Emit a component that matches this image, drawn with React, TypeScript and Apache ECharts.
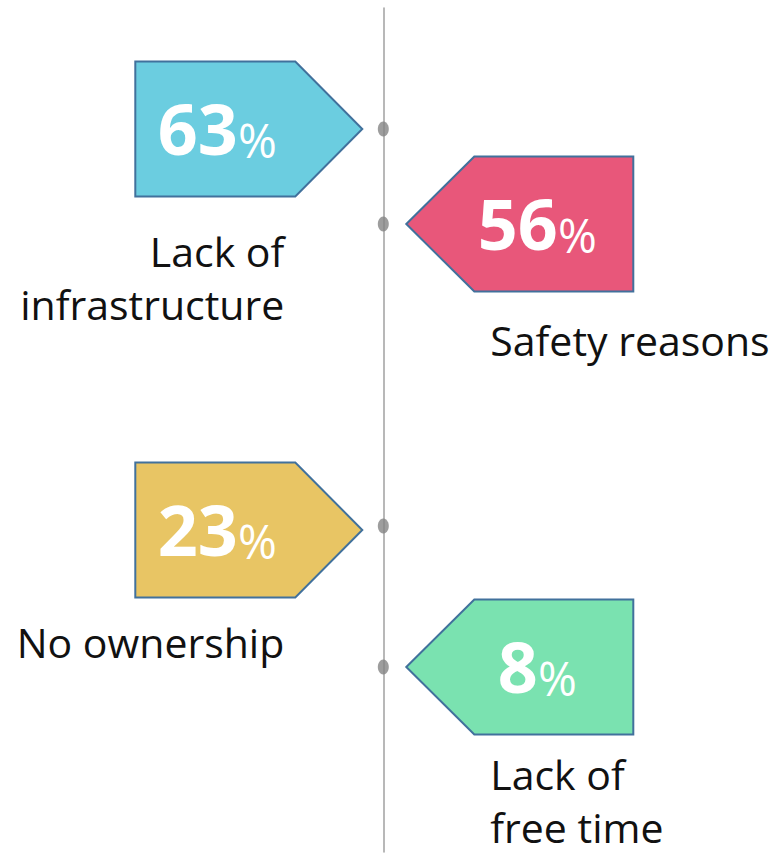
import React, { useEffect, useRef } from "react";
import * as echarts from "echarts";

// ---------- DATA ----------
const categories = ["Lack of\ninfrastructure", "Safety reasons", "No ownership", "Lack of\nfree time"];
const percentages = [63, 56, 23, 8];
const sides = ["left", "right", "left", "right"];
const fillColors = ["#6BCDE0", "#E8577A", "#E8C564", "#7AE2B0"];

// ---------- LAYOUT (pixel positions along the timeline) ----------
const TAG_Y = [129, 224, 530, 667];
const DOT_Y = [129, 224, 526, 667];
const LABEL_TOP = [224, 313, 615, 747];
const LABEL_LH = 53;

const HALF_H = 67.5;

export default function App() {
  const ref = useRef<HTMLDivElement>(null);

  useEffect(() => {
    if (!ref.current) return;
    const chart = echarts.init(ref.current, null, { renderer: "svg" });

    const tagData = percentages.map((v, i) => [0, TAG_Y[i], i]);
    const dotData = DOT_Y.map((y) => [0, y]);

    const renderItem = (params: any, api: any) => {
      const i = api.value(2);
      const [ax, ay] = api.coord([0, api.value(1)]);
      const left = sides[i] === "left";
      const points = left
        ? [
            [ax - 248, ay - HALF_H],
            [ax - 88, ay - HALF_H],
            [ax - 21, ay],
            [ax - 88, ay + HALF_H],
            [ax - 248, ay + HALF_H],
          ]
        : [
            [ax + 23, ay],
            [ax + 91, ay - HALF_H],
            [ax + 250, ay - HALF_H],
            [ax + 250, ay + HALF_H],
            [ax + 91, ay + HALF_H],
          ];
      const [, labelTop] = api.coord([0, LABEL_TOP[i]]);
      return {
        type: "group",
        children: [
          {
            type: "polygon",
            shape: { points },
            style: { fill: fillColors[i], stroke: "#41719C", lineWidth: 2 },
          },
          {
            type: "text",
            x: left ? ax - 166 : ax + 154,
            y: ay - 2,
            style: {
              text: `{n|${percentages[i]}}{p|%}`,
              align: "center",
              verticalAlign: "middle",
              fill: "#ffffff",
              rich: {
                n: {
                  fontFamily: "Open Sans",
                  fontWeight: "bold",
                  fontSize: 70,
                  lineHeight: 72,
                  verticalAlign: "bottom",
                  fill: "#ffffff",
                },
                p: {
                  fontFamily: "Open Sans",
                  fontWeight: "normal",
                  fontSize: 47,
                  lineHeight: 44,
                  verticalAlign: "bottom",
                  fill: "#ffffff",
                },
              },
            },
          },
          {
            type: "text",
            x: left ? ax - 99 : ax + 107,
            y: labelTop,
            style: {
              text: categories[i],
              align: left ? "right" : "left",
              verticalAlign: "top",
              fontFamily: "Open Sans",
              fontSize: 41,
              lineHeight: LABEL_LH,
              fill: "#111111",
            },
          },
        ],
      };
    };

    chart.setOption({
      animation: false,
      grid: { left: 0, right: 0, top: 8, bottom: 2, containLabel: false },
      xAxis: {
        type: "value",
        min: -383.3,
        max: 393.7,
        axisLine: { show: false },
        axisTick: { show: false },
        axisLabel: { show: false },
        splitLine: { show: false },
      },
      yAxis: {
        type: "value",
        min: 8,
        max: 852,
        inverse: true,
        axisLine: { show: true, onZero: true, lineStyle: { color: "#a0a0a0", width: 1.5 } },
        axisTick: { show: false },
        axisLabel: { show: false },
        splitLine: { show: false },
      },
      series: [
        {
          type: "custom",
          renderItem,
          data: tagData,
          z: 3,
          silent: true,
        },
        {
          type: "scatter",
          data: dotData,
          symbol: "circle",
          symbolSize: [11, 15],
          itemStyle: { color: "#858585" },
          z: 4,
          silent: true,
        },
      ],
    });

    return () => chart.dispose();
  }, []);

  return (
    <div
      ref={ref}
      style={{ position: "absolute", left: 0, top: 0, width: 777, height: 854, background: "#ffffff" }}
    />
  );
}
